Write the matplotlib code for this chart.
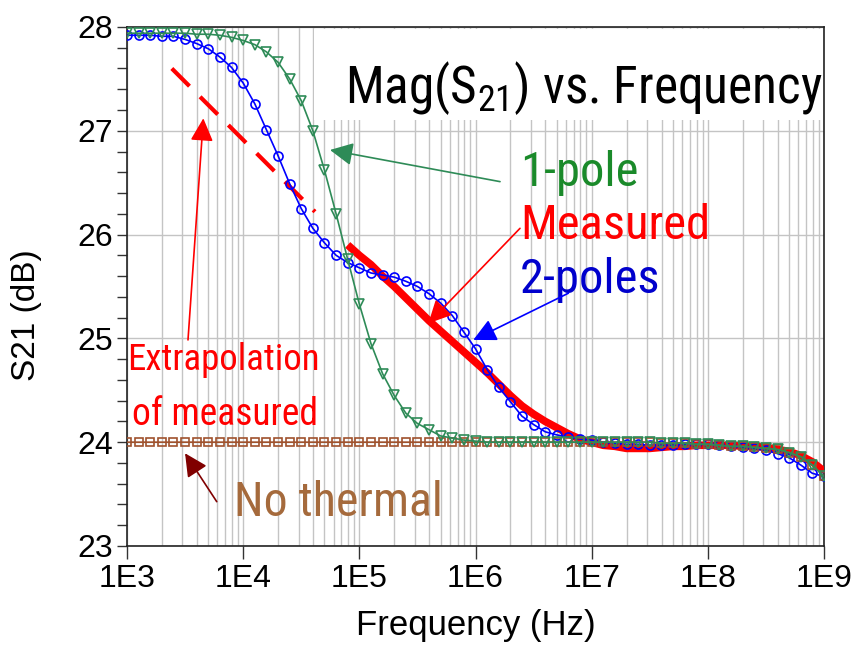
import matplotlib.pyplot as plt
import numpy as np
from matplotlib.ticker import LogLocator, MultipleLocator, FixedLocator
from matplotlib.patches import Rectangle

# simulated models: 10 points per decade, 1 kHz .. 1 GHz
freq = np.logspace(3, 9, 61)

one_pole = [27.94, 27.94, 27.94, 27.94, 27.94, 27.94, 27.93, 27.93, 27.92, 27.90,
            27.87, 27.83, 27.76, 27.66, 27.50, 27.29, 27.00, 26.62, 26.20, 25.76,
            25.33, 24.95, 24.66, 24.45, 24.28, 24.18, 24.12, 24.06, 24.04, 24.02,
            24.01, 24.00, 24.00, 24.00, 24.00, 24.00, 24.00, 24.00, 24.00, 24.00,
            24.00, 24.00, 24.00, 24.00, 24.00, 24.00, 23.99, 23.99, 23.99, 23.98,
            23.98, 23.97, 23.96, 23.96, 23.95, 23.94, 23.93, 23.90, 23.86, 23.78,
            23.67]

two_poles = [27.92, 27.92, 27.92, 27.91, 27.91, 27.88, 27.84, 27.79, 27.71, 27.61,
             27.46, 27.26, 27.01, 26.76, 26.49, 26.25, 26.06, 25.92, 25.80, 25.73,
             25.68, 25.63, 25.61, 25.59, 25.55, 25.50, 25.43, 25.34, 25.22, 25.06,
             24.90, 24.70, 24.53, 24.39, 24.25, 24.17, 24.10, 24.07, 24.05, 24.03,
             24.02, 24.00, 23.99, 23.98, 23.98, 23.97, 23.97, 23.97, 23.98, 23.98,
             23.98, 23.97, 23.96, 23.95, 23.94, 23.92, 23.89, 23.85, 23.78, 23.70,
             23.67]

no_thermal = [24.00] * 46 + [23.99, 23.99, 23.99, 23.98,
                             23.98, 23.97, 23.96, 23.96, 23.95, 23.94, 23.93, 23.90, 23.86, 23.78,
                             23.67]

# measured data, 80 kHz .. 1 GHz
meas_freq = np.logspace(4.9, 9, 42)
measured = [25.90, 25.80, 25.71, 25.60, 25.50, 25.39, 25.28, 25.17, 25.07, 24.97,
            24.87, 24.77, 24.67, 24.56, 24.45, 24.35, 24.27, 24.20, 24.14, 24.08,
            24.03, 24.00, 23.97, 23.96, 23.94, 23.94, 23.94, 23.95, 23.96, 23.96,
            23.97, 23.97, 23.97, 23.97, 23.96, 23.96, 23.95, 23.93, 23.91, 23.87,
            23.81, 23.72]

# straight-line extrapolation of the measured slope
extrap_freq = [2.43e3, 4.15e4]
extrap = [27.60, 26.22]

NARROW = ['Roboto Condensed', 'DejaVu Sans']
plt.rcParams['font.family'] = ['Liberation Sans', 'DejaVu Sans']
plt.rcParams['mathtext.fontset'] = 'custom'
plt.rcParams['mathtext.rm'] = 'Roboto Condensed'

fig = plt.figure(figsize=(8.57, 6.53), dpi=100)
ax = fig.add_axes([0.1482, 0.1639, 0.8133, 0.7948])

ax.plot(meas_freq, measured, color='#ff0000', lw=5.5, zorder=3, solid_capstyle='butt')
ax.plot(extrap_freq, extrap, color='#ff0000', lw=3, dashes=(6, 3.6), zorder=3)
ax.plot(freq, two_poles, color='#0000ff', lw=1.2, marker='o', ms=6.5, mfc='none',
        mew=1.2, zorder=4)
ax.plot(freq, no_thermal, color='#a0522d', lw=1.2, marker='s', ms=5.5, mfc='none',
        mew=1.2, zorder=5)
ax.plot(freq, one_pole, color='#2e8b57', lw=1.2, marker='v', ms=7, mfc='none',
        mew=1.2, zorder=6)

ax.set_xscale('log')
ax.set_xlim(1e3, 1e9)
ax.set_ylim(23, 28)
ax.xaxis.set_major_locator(FixedLocator([1e3, 1e4, 1e5, 1e6, 1e7, 1e8, 1e9]))
ax.set_xticklabels(['1E3', '1E4', '1E5', '1E6', '1E7', '1E8', '1E9'])
ax.xaxis.set_minor_locator(LogLocator(base=10, subs=np.arange(2, 10)))
ax.yaxis.set_major_locator(MultipleLocator(1))
ax.yaxis.set_minor_locator(MultipleLocator(0.2))

ax.grid(True, axis='x', which='both', color='#c4c4c4', lw=1.0)
ax.grid(True, axis='y', which='major', color='#c4c4c4', lw=1.0)
ax.set_axisbelow(True)
ax.tick_params(axis='x', which='major', direction='out', length=9, width=1,
               labelsize=23, pad=4, color='#333333')
ax.tick_params(axis='x', which='minor', length=0)
ax.tick_params(axis='y', which='major', direction='out', length=7, width=1,
               labelsize=23, pad=3, color='#333333')
ax.tick_params(axis='y', which='minor', direction='out', length=7, width=1,
               color='#333333')
for s in ax.spines.values():
    s.set_linewidth(1.2)
    s.set_color('#222222')

ax.set_xlabel('Frequency (Hz)', fontsize=25, labelpad=11)
ax.set_ylabel('S21 (dB)', fontsize=24)
ax.yaxis.set_label_coords(-0.122, 0.445)

# title panel inside the plot
ax.add_patch(Rectangle((0.268, 0.821), 0.73, 0.175, transform=ax.transAxes,
                       facecolor='white', edgecolor='none', zorder=2))
ax.text(0.9986, 0.8536, 'Mag(S$_{21}$) vs. Frequency', transform=ax.transAxes,
        ha='right', va='baseline', fontsize=37, family=NARROW, zorder=7)

def label(x, y, s, color, size):
    ax.text(x, y, s, color=color, fontsize=size, family=NARROW,
            ha='left', va='baseline', zorder=7)

def arrow(tail, tip, color, lw=1.2):
    ax.annotate('', xy=tip, xytext=tail,
                arrowprops=dict(arrowstyle='-|>,head_length=1.4,head_width=0.7',
                                mutation_scale=10, color=color, lw=lw,
                                shrinkA=0, shrinkB=0), zorder=7)

label(2.42e6, 26.47, '1-pole', '#1a8a2a', 35)
label(2.42e6, 25.96, 'Measured', '#ff0000', 35)
label(2.42e6, 25.44, '2-poles', '#0000cc', 35)
label(1.0e3, 24.70, 'Extrapolation', '#ff0000', 26.5)
label(1.1e3, 24.17, 'of measured', '#ff0000', 27)
label(8.3e3, 23.29, 'No thermal', '#a56a3c', 34.5)

arrow((1.626e6, 26.51), (5.59e4, 26.815), '#2e8b57')
arrow((2.415e6, 26.06), (3.93e5, 25.145), '#ff0000')
arrow((6.3e6, 25.435), (9.57e5, 24.985), '#0000ff')
arrow((3.35e3, 24.985), (4.54e3, 27.12), '#ff0000')
arrow((5.92e3, 23.427), (3.16e3, 23.893), '#800000')

fig.savefig('out.png', dpi=100)
